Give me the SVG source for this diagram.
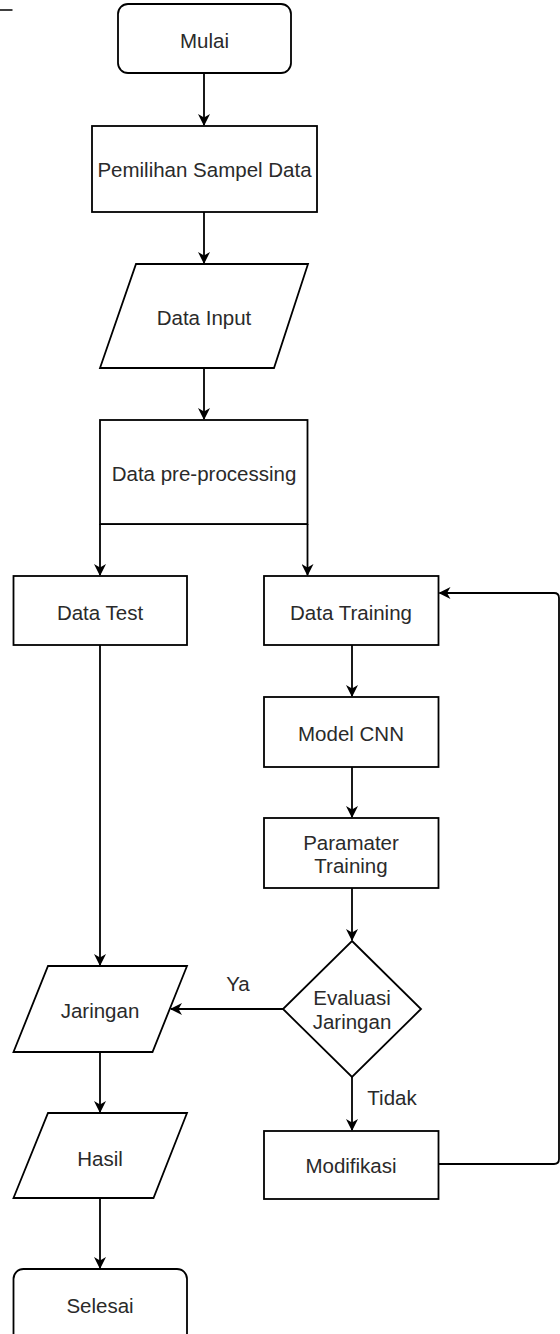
<svg xmlns="http://www.w3.org/2000/svg" width="560" height="1334" viewBox="0 0 560 1334">
<style>
.n{fill:#fff;stroke:#000;stroke-width:1.8}
.t{font-family:"Liberation Sans",Arial,sans-serif;font-size:20.5px;fill:#2a2a2a;text-anchor:middle;dominant-baseline:central}
.e{fill:none;stroke:#000;stroke-width:1.8}
</style>
<defs>
<marker id="a" viewBox="0 0 12 12" refX="11" refY="6" markerWidth="12" markerHeight="12" markerUnits="userSpaceOnUse" orient="auto">
<path d="M0,0 L12,6 L0,12 L3.5,6 Z" fill="#000"/>
</marker>
</defs>
<line x1="0" y1="10" x2="12.5" y2="10" stroke="#000" stroke-width="1.5"/>
<g id="connectors">
<line class="e" x1="204" y1="73" x2="204" y2="125" marker-end="url(#a)"/>
<line class="e" x1="204" y1="212" x2="204" y2="263" marker-end="url(#a)"/>
<line class="e" x1="204" y1="368" x2="204" y2="419" marker-end="url(#a)"/>
<line class="e" x1="100" y1="524" x2="307.5" y2="524"/>
<line class="e" x1="100" y1="524" x2="100" y2="575" marker-end="url(#a)"/>
<line class="e" x1="307.5" y1="524" x2="307.5" y2="575" marker-end="url(#a)"/>
<line class="e" x1="352" y1="645" x2="352" y2="696" marker-end="url(#a)"/>
<line class="e" x1="352" y1="767" x2="352" y2="817" marker-end="url(#a)"/>
<line class="e" x1="352" y1="888" x2="352" y2="940" marker-end="url(#a)"/>
<line class="e" x1="100" y1="645" x2="100" y2="965" marker-end="url(#a)"/>
<line class="e" x1="283" y1="1009" x2="171" y2="1009" marker-end="url(#a)"/>
<line class="e" x1="352" y1="1077" x2="352" y2="1130" marker-end="url(#a)"/>
<line class="e" x1="100" y1="1052" x2="100" y2="1112" marker-end="url(#a)"/>
<line class="e" x1="100" y1="1198" x2="100" y2="1268" marker-end="url(#a)"/>
<path class="e" d="M438.5,1164 H554 Q559,1164 559,1159 V598 Q559,593 554,593 H439.5" marker-end="url(#a)"/>
<text class="t" x="238" y="983">Ya</text>
<text class="t" x="392" y="1097">Tidak</text>
</g>
<g id="mulai"><rect class="n" x="118" y="4" width="173" height="69" rx="10"/><text class="t" x="204.5" y="40">Mulai</text></g>
<g id="pemilihan"><rect class="n" x="92" y="126" width="225" height="86"/><text class="t" x="204.5" y="169">Pemilihan Sampel Data</text></g>
<g id="data-input"><polygon class="n" points="136,264 308,264 274,368 100,368"/><text class="t" x="204" y="317">Data Input</text></g>
<g id="preprocessing"><rect class="n" x="100" y="420" width="207.5" height="104"/><text class="t" x="204" y="473">Data pre-processing</text></g>
<g id="data-test"><rect class="n" x="13.5" y="576" width="173.5" height="69"/><text class="t" x="100" y="612">Data Test</text></g>
<g id="data-training"><rect class="n" x="264" y="576" width="174.5" height="69"/><text class="t" x="351" y="612">Data Training</text></g>
<g id="model-cnn"><rect class="n" x="264" y="697" width="174.5" height="70"/><text class="t" x="351" y="733">Model CNN</text></g>
<g id="parameter"><rect class="n" x="264" y="818" width="174.5" height="70"/><text class="t" x="351" y="842">Paramater</text><text class="t" x="351" y="865">Training</text></g>
<g id="evaluasi"><polygon class="n" points="352,941 421,1009 352,1077 283,1009"/><text class="t" x="352" y="997">Evaluasi</text><text class="t" x="352" y="1021">Jaringan</text></g>
<g id="jaringan"><polygon class="n" points="48,966 187,966 152.5,1052 13.5,1052"/><text class="t" x="100" y="1010">Jaringan</text></g>
<g id="modifikasi"><rect class="n" x="264" y="1131" width="174.5" height="68"/><text class="t" x="351" y="1165">Modifikasi</text></g>
<g id="hasil"><polygon class="n" points="48,1113 187,1113 153.5,1198 13.5,1198"/><text class="t" x="100" y="1158">Hasil</text></g>
<g id="selesai"><rect class="n" x="13.5" y="1269" width="173.5" height="75" rx="10"/><text class="t" x="100" y="1305">Selesai</text></g>
</svg>
